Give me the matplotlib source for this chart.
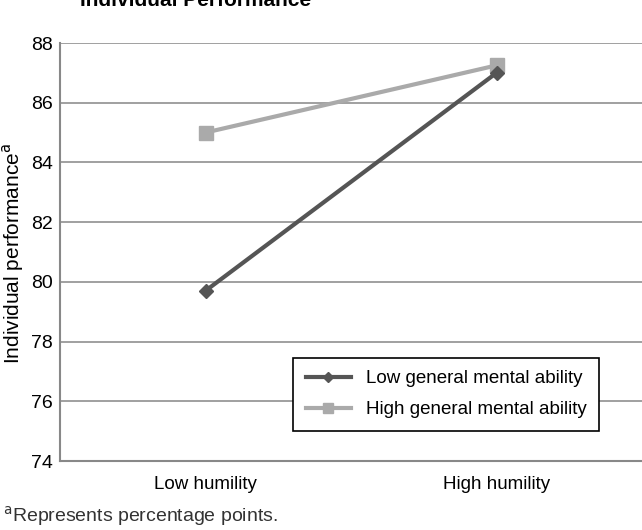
import numpy as np
import matplotlib.pyplot as plt

plt.rcParams['font.family'] = ['Liberation Sans', 'DejaVu Sans']

categories = ['Low humility', 'High humility']
low_gma = [79.7, 87.0]
high_gma = [85.0, 87.25]
yticks = [74, 76, 78, 80, 82, 84, 86, 88]

fig = plt.figure(figsize=(6.42, 5.30), dpi=100)
ax = fig.add_axes([60/642, 1 - 461/530, 1 - 60/642, 418/530])

x = np.arange(len(categories))
ax.plot(x, high_gma, color='#aaaaaa', lw=3, marker='s', ms=10, label='High general mental ability', zorder=3)
ax.plot(x, low_gma, color='#555555', lw=3, marker='D', ms=7, label='Low general mental ability', zorder=4)

ax.set_xlim(-0.5, 1.5)
ax.set_ylim(74, 88)
ax.set_yticks(yticks)
ax.set_xticks(x)
ax.set_xticklabels(categories, fontsize=13.5)
ax.tick_params(axis='y', labelsize=14, length=0, pad=5)
ax.tick_params(axis='x', length=0, pad=11)
ax.yaxis.grid(True, color='#999999', lw=1.3)
ax.set_axisbelow(True)
for s in ['top', 'right']:
    ax.spines[s].set_visible(False)
for s in ['left', 'bottom']:
    ax.spines[s].set_color('#888888')
    ax.spines[s].set_linewidth(1.5)

fig.text(13/642, 1 - 253/530, 'Individual performance$^{\\mathrm{a}}$', fontsize=15,
         rotation=90, ha='center', va='center')

h, l = ax.get_legend_handles_labels()
leg = ax.legend(h[::-1], l[::-1], loc='lower left', bbox_to_anchor=(224/582, 21/418),
                fontsize=13.5, frameon=True, fancybox=False, edgecolor='black',
                framealpha=1, handlelength=2.4, markerscale=0.7, borderpad=0.65,
                labelspacing=0.75, handletextpad=0.8)
leg.get_frame().set_linewidth(1.2)

fig.text(80/642, 1 - 6/530, 'Individual Performance', fontsize=15, fontweight='bold', va='baseline')
fig.text(3/642, 1 - 522/530, '$^{\\mathrm{a}}$Represents percentage points.', fontsize=14, va='baseline', color='#333333')

fig.savefig('out.png', dpi=100)
